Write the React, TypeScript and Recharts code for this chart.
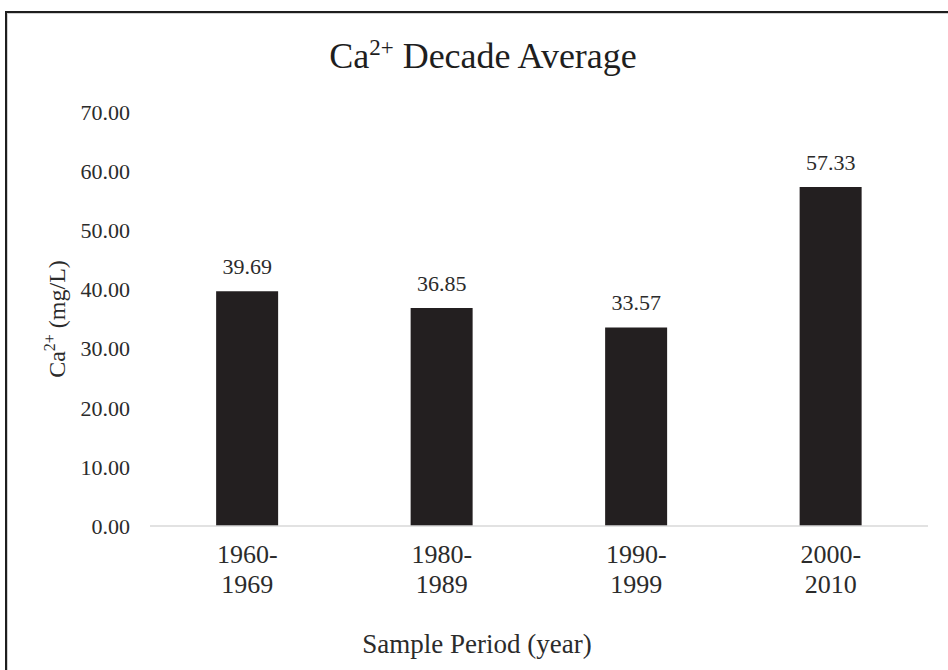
import { BarChart, Bar, XAxis, YAxis, LabelList } from 'recharts'

const periods = ['1960-1969', '1980-1989', '1990-1999', '2000-2010']
const caAverage = [39.69, 36.85, 33.57, 57.33]
const yTicks = [0, 10, 20, 30, 40, 50, 60, 70]

const chartData = periods.map((p, i) => ({ period: p, ca: caAverage[i] }))

const FONT = '"Liberation Serif", "Times New Roman", serif'
const TEXT = '#2b2b2b'

// two-line category tick: "1960-" on top, "1969" below
function PeriodTick({ x, y, payload }: any) {
  const [a, b] = String(payload.value).split('-')
  return (
    <text x={x} y={y} textAnchor="middle" fill={TEXT} fontSize={26} fontFamily={FONT}>
      <tspan x={x} dy={29}>{a}-</tspan>
      <tspan x={x} dy={30}>{b}</tspan>
    </text>
  )
}

function YTitle({ viewBox }: any) {
  const cx = viewBox.x + 32
  const cy = viewBox.y + viewBox.height / 2
  return (
    <text x={cx} y={cy} transform={`rotate(-90 ${cx} ${cy})`} textAnchor="middle"
      dominantBaseline="central" fill={TEXT} fontSize={24} fontFamily={FONT}>
      Ca<tspan dy={-8} fontSize={16}>2+</tspan><tspan dy={8}> (mg/L)</tspan>
    </text>
  )
}

function XTitle({ viewBox }: any) {
  const cx = viewBox.x + viewBox.width / 2 - 62
  const cy = viewBox.y + 127
  return (
    <text x={cx} y={cy} textAnchor="middle" fill={TEXT} fontSize={27} fontFamily={FONT}>
      Sample Period (year)
    </text>
  )
}

export default function App() {
  return (
    <div style={{ position: 'absolute', left: 0, top: 0, width: 948, height: 670, overflow: 'hidden', background: '#fff' }}>
      <div style={{
        position: 'absolute', left: 5, top: 11, width: 1000, height: 800,
        borderLeft: '2px solid #1e1e1e', borderTop: '2px solid #1e1e1e',
        boxShadow: 'inset 1px 1px 0 #d0d0d0'
      }} />
      <div style={{
        position: 'absolute', left: 0, width: 966, top: 38, textAlign: 'center',
        fontFamily: FONT, fontSize: 36, color: '#1e1e1e', lineHeight: '36px', whiteSpace: 'nowrap'
      }}>
        Ca<span style={{ fontSize: 23, position: 'relative', top: -13 }}>2+</span> Decade Average
      </div>
      <div style={{ position: 'absolute', left: 0, top: 0 }}>
        <BarChart width={948} height={670} data={chartData}
          margin={{ top: 112, right: 20, bottom: 0, left: 25 }}
          barCategoryGap="34%">
          <XAxis dataKey="period" height={144} tickLine={false}
            axisLine={{ stroke: '#d9d9d9', strokeWidth: 1.5 }}
            tick={<PeriodTick />} interval={0}
            label={<XTitle />} />
          <YAxis width={125} domain={[0, 70]} ticks={yTicks} axisLine={false}
            tickLine={false} tickSize={0} tickMargin={20}
            tickFormatter={(v: number) => v.toFixed(2)}
            tick={{ fill: TEXT, fontSize: 22, fontFamily: FONT }}
            label={<YTitle />} />
          <Bar dataKey="ca" fill="#231f20" isAnimationActive={false}>
            <LabelList dataKey="ca" position="top" offset={17}
              formatter={(v: any) => Number(v).toFixed(2)}
              style={{ fill: TEXT, fontSize: 22, fontFamily: FONT }} />
          </Bar>
        </BarChart>
      </div>
    </div>
  )
}
